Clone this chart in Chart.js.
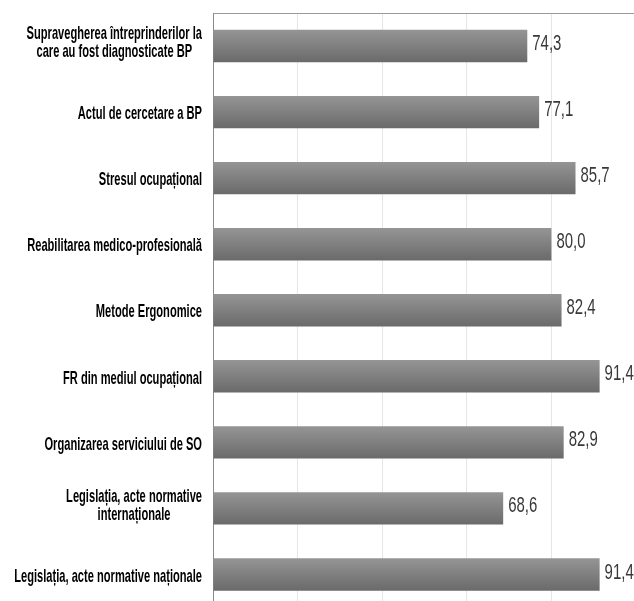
<!DOCTYPE html>
<html>
<head>
<meta charset="utf-8">
<script src="https://cdn.jsdelivr.net/npm/chart.js@4/dist/chart.umd.min.js"></script>
<style>
html,body{margin:0;padding:0;background:#fff;overflow:hidden;width:634px;height:601px;}
#wrap{position:absolute;left:0;top:0;width:640px;height:610px;}
</style>
</head>
<body>
<div id="wrap"><canvas id="c" width="640" height="610"></canvas></div>
<script>
const categories = [
  ['Supravegherea întreprinderilor la', 'care au fost diagnosticate BP'],
  'Actul de cercetare a BP',
  'Stresul ocupațional',
  'Reabilitarea medico-profesională',
  'Metode Ergonomice',
  'FR din mediul ocupațional',
  'Organizarea serviciului de SO',
  ['Legislația, acte normative', 'internaționale'],
  'Legislația, acte normative naționale'
];
const values = [74.3, 77.1, 85.7, 80.0, 82.4, 91.4, 82.9, 68.6, 91.4];
const xTicks = [0, 20, 40, 60, 80, 100];

const LABEL_FONT = 'bold 19px "Liberation Sans", Arial, sans-serif';
const VALUE_FONT = '22px "Liberation Sans", Arial, sans-serif';
const LABEL_SX = 0.585;
const VALUE_SX = 0.68;
const BAR_PCT = 0.49;

const fmt = v => v.toFixed(1).replace('.', ',');

function barGradient(c) {
  const chart = c.chart;
  const ys = chart.scales && chart.scales.y;
  if (!ys || !chart.chartArea) return '#7f7f7f';
  const yc = ys.getPixelForValue(c.dataIndex);
  const h = (ys.height / categories.length) * BAR_PCT;
  const g = chart.ctx.createLinearGradient(0, yc - h / 2, 0, yc + h / 2);
  g.addColorStop(0, '#959595');
  g.addColorStop(1, '#6a6a6a');
  return g;
}

const textPlugin = {
  id: 'texts',
  afterDraw(chart) {
    const ctx = chart.ctx;
    const ys = chart.scales.y, xs = chart.scales.x;
    const area = chart.chartArea;
    ctx.save();
    ctx.font = LABEL_FONT;
    ctx.fillStyle = '#000';
    ctx.textAlign = 'center';
    ctx.textBaseline = 'middle';
    const lineH = 18;
    categories.forEach((lab, i) => {
      const lines = Array.isArray(lab) ? lab : [lab];
      const yc = ys.getPixelForValue(i);
      const w = Math.max(...lines.map(l => ctx.measureText(l).width)) * LABEL_SX;
      const right = area.left - 11;
      const cx = right - w / 2;
      const yOff = lines.length > 1 ? -3 : 2;
      lines.forEach((l, j) => {
        const y = yc + yOff + (j - (lines.length - 1) / 2) * lineH;
        ctx.save();
        ctx.translate(cx, y);
        ctx.scale(LABEL_SX, 1);
        ctx.fillText(l, 0, 0);
        ctx.restore();
      });
    });
    ctx.font = VALUE_FONT;
    ctx.fillStyle = '#383838';
    ctx.textAlign = 'left';
    values.forEach((v, i) => {
      const x = xs.getPixelForValue(v) + 5;
      const y = ys.getPixelForValue(i) - 2;
      ctx.save();
      ctx.translate(x, y);
      ctx.scale(VALUE_SX, 1);
      ctx.fillText(fmt(v), 0, 0);
      ctx.restore();
    });
    ctx.restore();
  }
};

new Chart(document.getElementById('c'), {
  type: 'bar',
  data: {
    labels: categories,
    datasets: [{
      data: values,
      backgroundColor: barGradient,
      borderWidth: 0,
      barPercentage: BAR_PCT,
      categoryPercentage: 1.0
    }]
  },
  options: {
    indexAxis: 'y',
    responsive: false,
    animation: false,
    devicePixelRatio: 1,
    layout: { padding: { left: 213, top: 13, right: 4, bottom: 2.5 } },
    plugins: { legend: { display: false }, tooltip: { enabled: false } },
    scales: {
      x: {
        position: 'top',
        min: 0, max: 100,
        afterBuildTicks: s => { s.ticks = xTicks.map(v => ({ value: v })); },
        afterFit: s => { s.height = 0; },
        ticks: { display: false },
        grid: { color: '#e6e6e6', drawTicks: false, lineWidth: 1 },
        border: { display: true, color: '#9a9a9a', width: 1 }
      },
      y: {
        afterFit: s => { s.width = 0; },
        ticks: { display: false },
        grid: { display: false, drawTicks: false },
        border: { display: true, color: '#8a8a8a', width: 1 }
      }
    }
  },
  plugins: [textPlugin]
});
</script>
</body>
</html>
